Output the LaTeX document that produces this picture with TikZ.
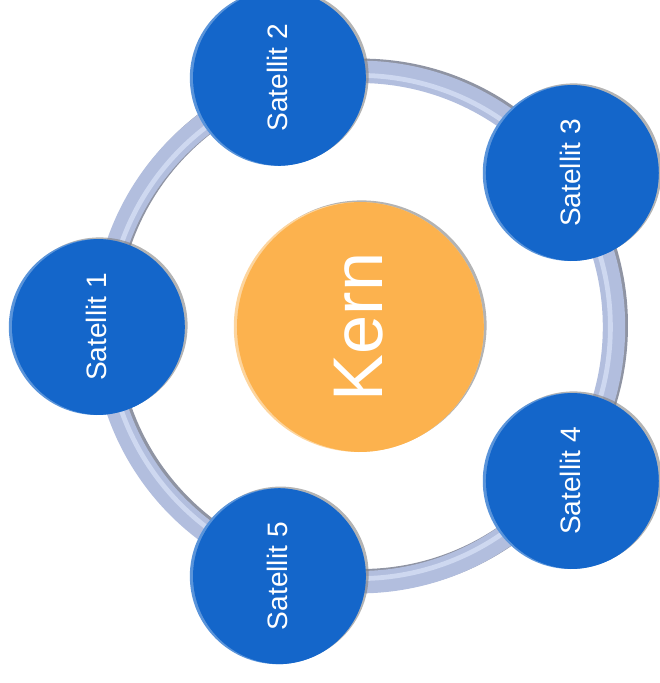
\documentclass[tikz,border=0pt]{standalone}
\usepackage{fontspec}
\setmainfont{Liberation Sans}
\usetikzlibrary{shadows}
\definecolor{satblue}{RGB}{20,102,202}
\definecolor{coreorange}{RGB}{252,178,78}
\definecolor{ringdark}{RGB}{96,102,124}
\definecolor{ringmid}{RGB}{178,190,222}
\definecolor{ringlight}{RGB}{206,216,240}

\tikzset{
    bevel/.style n args={2}{path picture={
        \fill[#1] ([xshift=0.08cm]path picture bounding box.center) circle (#2);}},
    softshadow/.style={drop shadow={shadow xshift=0.07cm, shadow yshift=0.04cm, opacity=0.6}}
}

\begin{document}
\begin{tikzpicture}[
    satellite/.style={circle, fill=satblue!70!white, bevel={satblue}{2.2cm}, minimum size=4.4cm, inner sep=0pt, text=white, font=\fontsize{20}{24}\selectfont, softshadow},
    core/.style={circle, fill=coreorange!55!white, bevel={coreorange}{3.125cm}, minimum size=6.25cm, inner sep=0pt, text=white, font=\fontsize{50}{60}\selectfont, softshadow}
  ]
    \useasboundingbox (-8.97,-8.9) rectangle (7.53,8.175);
    % the orbit ring, a tube with a shadow and a light streak
    \draw[ringdark, opacity=0.7, line width=0.58cm] (0.06,0.04) circle (6.38);
    \draw[ringmid, line width=0.56cm] (0,0) circle (6.38);
    \draw[ringlight, line width=0.12cm] (0,0) circle (6.29);
    % centre and satellites
    \node[core] (kern) at (0,0) {\rotatebox{90}{Kern}};
    \foreach \i/\a in {1/180, 2/108, 3/36, 4/-36, 5/-108}
        \node[satellite] (sat\i) at (\a:6.55) {\rotatebox{90}{Satellit \i}};
\end{tikzpicture}
\end{document}
